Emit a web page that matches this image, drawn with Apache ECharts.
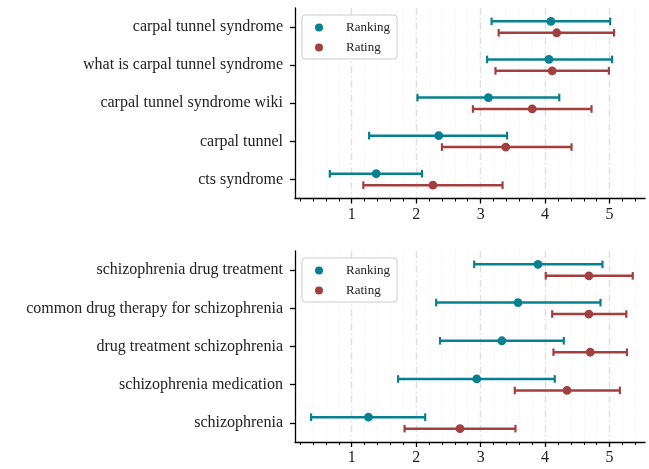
<!DOCTYPE html>
<html><head><meta charset="utf-8">
<script src="https://cdn.jsdelivr.net/npm/echarts@6/dist/echarts.min.js"></script>
<style>html,body{margin:0;padding:0;background:#fff}#c{width:649px;height:469px}</style>
</head><body><div id="c"></div>
<script>
const categoriesTop = ['carpal tunnel syndrome','what is carpal tunnel syndrome','carpal tunnel syndrome wiki','carpal tunnel','cts syndrome'];
const rankingTopLow  = [3.17, 3.10, 2.02, 1.27, 0.66];
const rankingTopMean = [4.09, 4.06, 3.12, 2.35, 1.38];
const rankingTopHigh = [5.01, 5.04, 4.22, 3.41, 2.09];
const ratingTopLow   = [3.28, 3.23, 2.88, 2.40, 1.18];
const ratingTopMean  = [4.18, 4.11, 3.80, 3.39, 2.26];
const ratingTopHigh  = [5.07, 4.99, 4.72, 4.41, 3.34];

const categoriesBottom = ['schizophrenia drug treatment','common drug therapy for schizophrenia','drug treatment schizophrenia','schizophrenia medication','schizophrenia'];
const rankingBottomLow  = [2.90, 2.31, 2.37, 1.72, 0.37];
const rankingBottomMean = [3.89, 3.58, 3.33, 2.94, 1.26];
const rankingBottomHigh = [4.89, 4.86, 4.29, 4.15, 2.14];
const ratingBottomLow   = [4.01, 4.11, 4.13, 3.53, 1.82];
const ratingBottomMean  = [4.68, 4.68, 4.70, 4.34, 2.68];
const ratingBottomHigh  = [5.36, 5.26, 5.27, 5.16, 3.54];

const xTicks = [1, 2, 3, 4, 5];
const seriesNames = ['Ranking', 'Rating'];

const X_MIN = 0.12, X_MAX = 5.55;
const TEAL = '#07808f', RED = '#a2403f';
const FONT = 'Liberation Serif';
const minorTicks = [];
for (let i = 1; i <= 27; i++) { if (i % 5 !== 0) minorTicks.push(+(i * 0.2).toFixed(1)); }

function rows(lo, mid, hi) { return lo.map((v, i) => [i, v, mid[i], hi[i]]); }

function makeRender(sign, color) {
  return function (params, api) {
    const cat = api.value(0);
    const pLo = api.coord([api.value(1), cat]);
    const pMid = api.coord([api.value(2), cat]);
    const pHi = api.coord([api.value(3), cat]);
    const band = api.size([0, 1])[1];
    const y = pLo[1] + sign * band * 0.15;
    const cap = 3.8;
    return { type: 'group', children: [
      { type: 'line', shape: { x1: pLo[0], y1: y, x2: pHi[0], y2: y }, style: { stroke: color, lineWidth: 2.5 } },
      { type: 'line', shape: { x1: pLo[0], y1: y - cap, x2: pLo[0], y2: y + cap }, style: { stroke: color, lineWidth: 2.2 } },
      { type: 'line', shape: { x1: pHi[0], y1: y - cap, x2: pHi[0], y2: y + cap }, style: { stroke: color, lineWidth: 2.2 } },
      { type: 'circle', shape: { cx: pMid[0], cy: y, r: 4.4 }, style: { fill: color } }
    ]};
  };
}

function mainX(grid) {
  return { type: 'value', gridIndex: grid, min: X_MIN, max: X_MAX, position: 'bottom',
    axisLine: { show: true, onZero: false, lineStyle: { color: '#000', width: 1.3 } },
    axisTick: { show: true, customValues: xTicks, length: 5, lineStyle: { color: '#000', width: 1.3 } },
    axisLabel: { customValues: xTicks, fontFamily: FONT, fontSize: 16, color: '#222', margin: 8 },
    splitLine: { show: true, lineStyle: { color: '#dedede', width: 1.4, type: [7, 3, 1.5, 3] } } };
}
function minorX(grid) {
  return { type: 'value', gridIndex: grid, min: X_MIN, max: X_MAX, position: 'bottom',
    axisLine: { show: false, onZero: false },
    axisTick: { show: true, customValues: minorTicks, length: 3, lineStyle: { color: '#000', width: 1 } },
    axisLabel: { show: false },
    splitLine: { show: true, lineStyle: { color: '#efefef', width: 1, type: [1, 2] } } };
}
function catY(grid, cats) {
  return { type: 'category', gridIndex: grid, data: cats, inverse: true,
    axisLine: { show: true, lineStyle: { color: '#000', width: 1.3 } },
    axisTick: { show: true, alignWithLabel: true, length: 5, lineStyle: { color: '#000', width: 1.3 } },
    axisLabel: { fontFamily: FONT, fontSize: 16, color: '#222', margin: 12 },
    splitLine: { show: false } };
}
function legend(top) {
  return { orient: 'vertical', left: 302, top: top, data: seriesNames, icon: 'circle',
    itemWidth: 22, itemHeight: 8, itemGap: 7, padding: [6, 7, 5, 13],
    borderColor: '#cccccc', borderWidth: 1, borderRadius: 3, backgroundColor: 'rgba(255,255,255,0.85)',
    textStyle: { fontFamily: FONT, fontSize: 13, color: '#222', padding: [0, 0, 0, 11] } };
}
function ser(name, xi, yi, data, sign, color) {
  return { type: 'custom', name: name, xAxisIndex: xi, yAxisIndex: yi, data: data,
    encode: { x: [1, 2, 3], y: 0 }, itemStyle: { color: color }, renderItem: makeRender(sign, color), z: 5 };
}

const chart = echarts.init(document.getElementById('c'), null, { renderer: 'canvas' });
chart.setOption({
  animation: false,
  backgroundColor: '#fff',
  grid: [
    { left: 295, top: 8, width: 350, height: 190.5 },
    { left: 295, top: 251, width: 350, height: 191 }
  ],
  xAxis: [mainX(0), minorX(0), mainX(1), minorX(1)],
  yAxis: [catY(0, categoriesTop), catY(1, categoriesBottom)],
  legend: [legend(15), legend(258)],
  series: [
    ser('Ranking', 0, 0, rows(rankingTopLow, rankingTopMean, rankingTopHigh), -1, TEAL),
    ser('Rating', 0, 0, rows(ratingTopLow, ratingTopMean, ratingTopHigh), 1, RED),
    ser('Ranking', 2, 1, rows(rankingBottomLow, rankingBottomMean, rankingBottomHigh), -1, TEAL),
    ser('Rating', 2, 1, rows(ratingBottomLow, ratingBottomMean, ratingBottomHigh), 1, RED)
  ]
});
</script></body></html>
